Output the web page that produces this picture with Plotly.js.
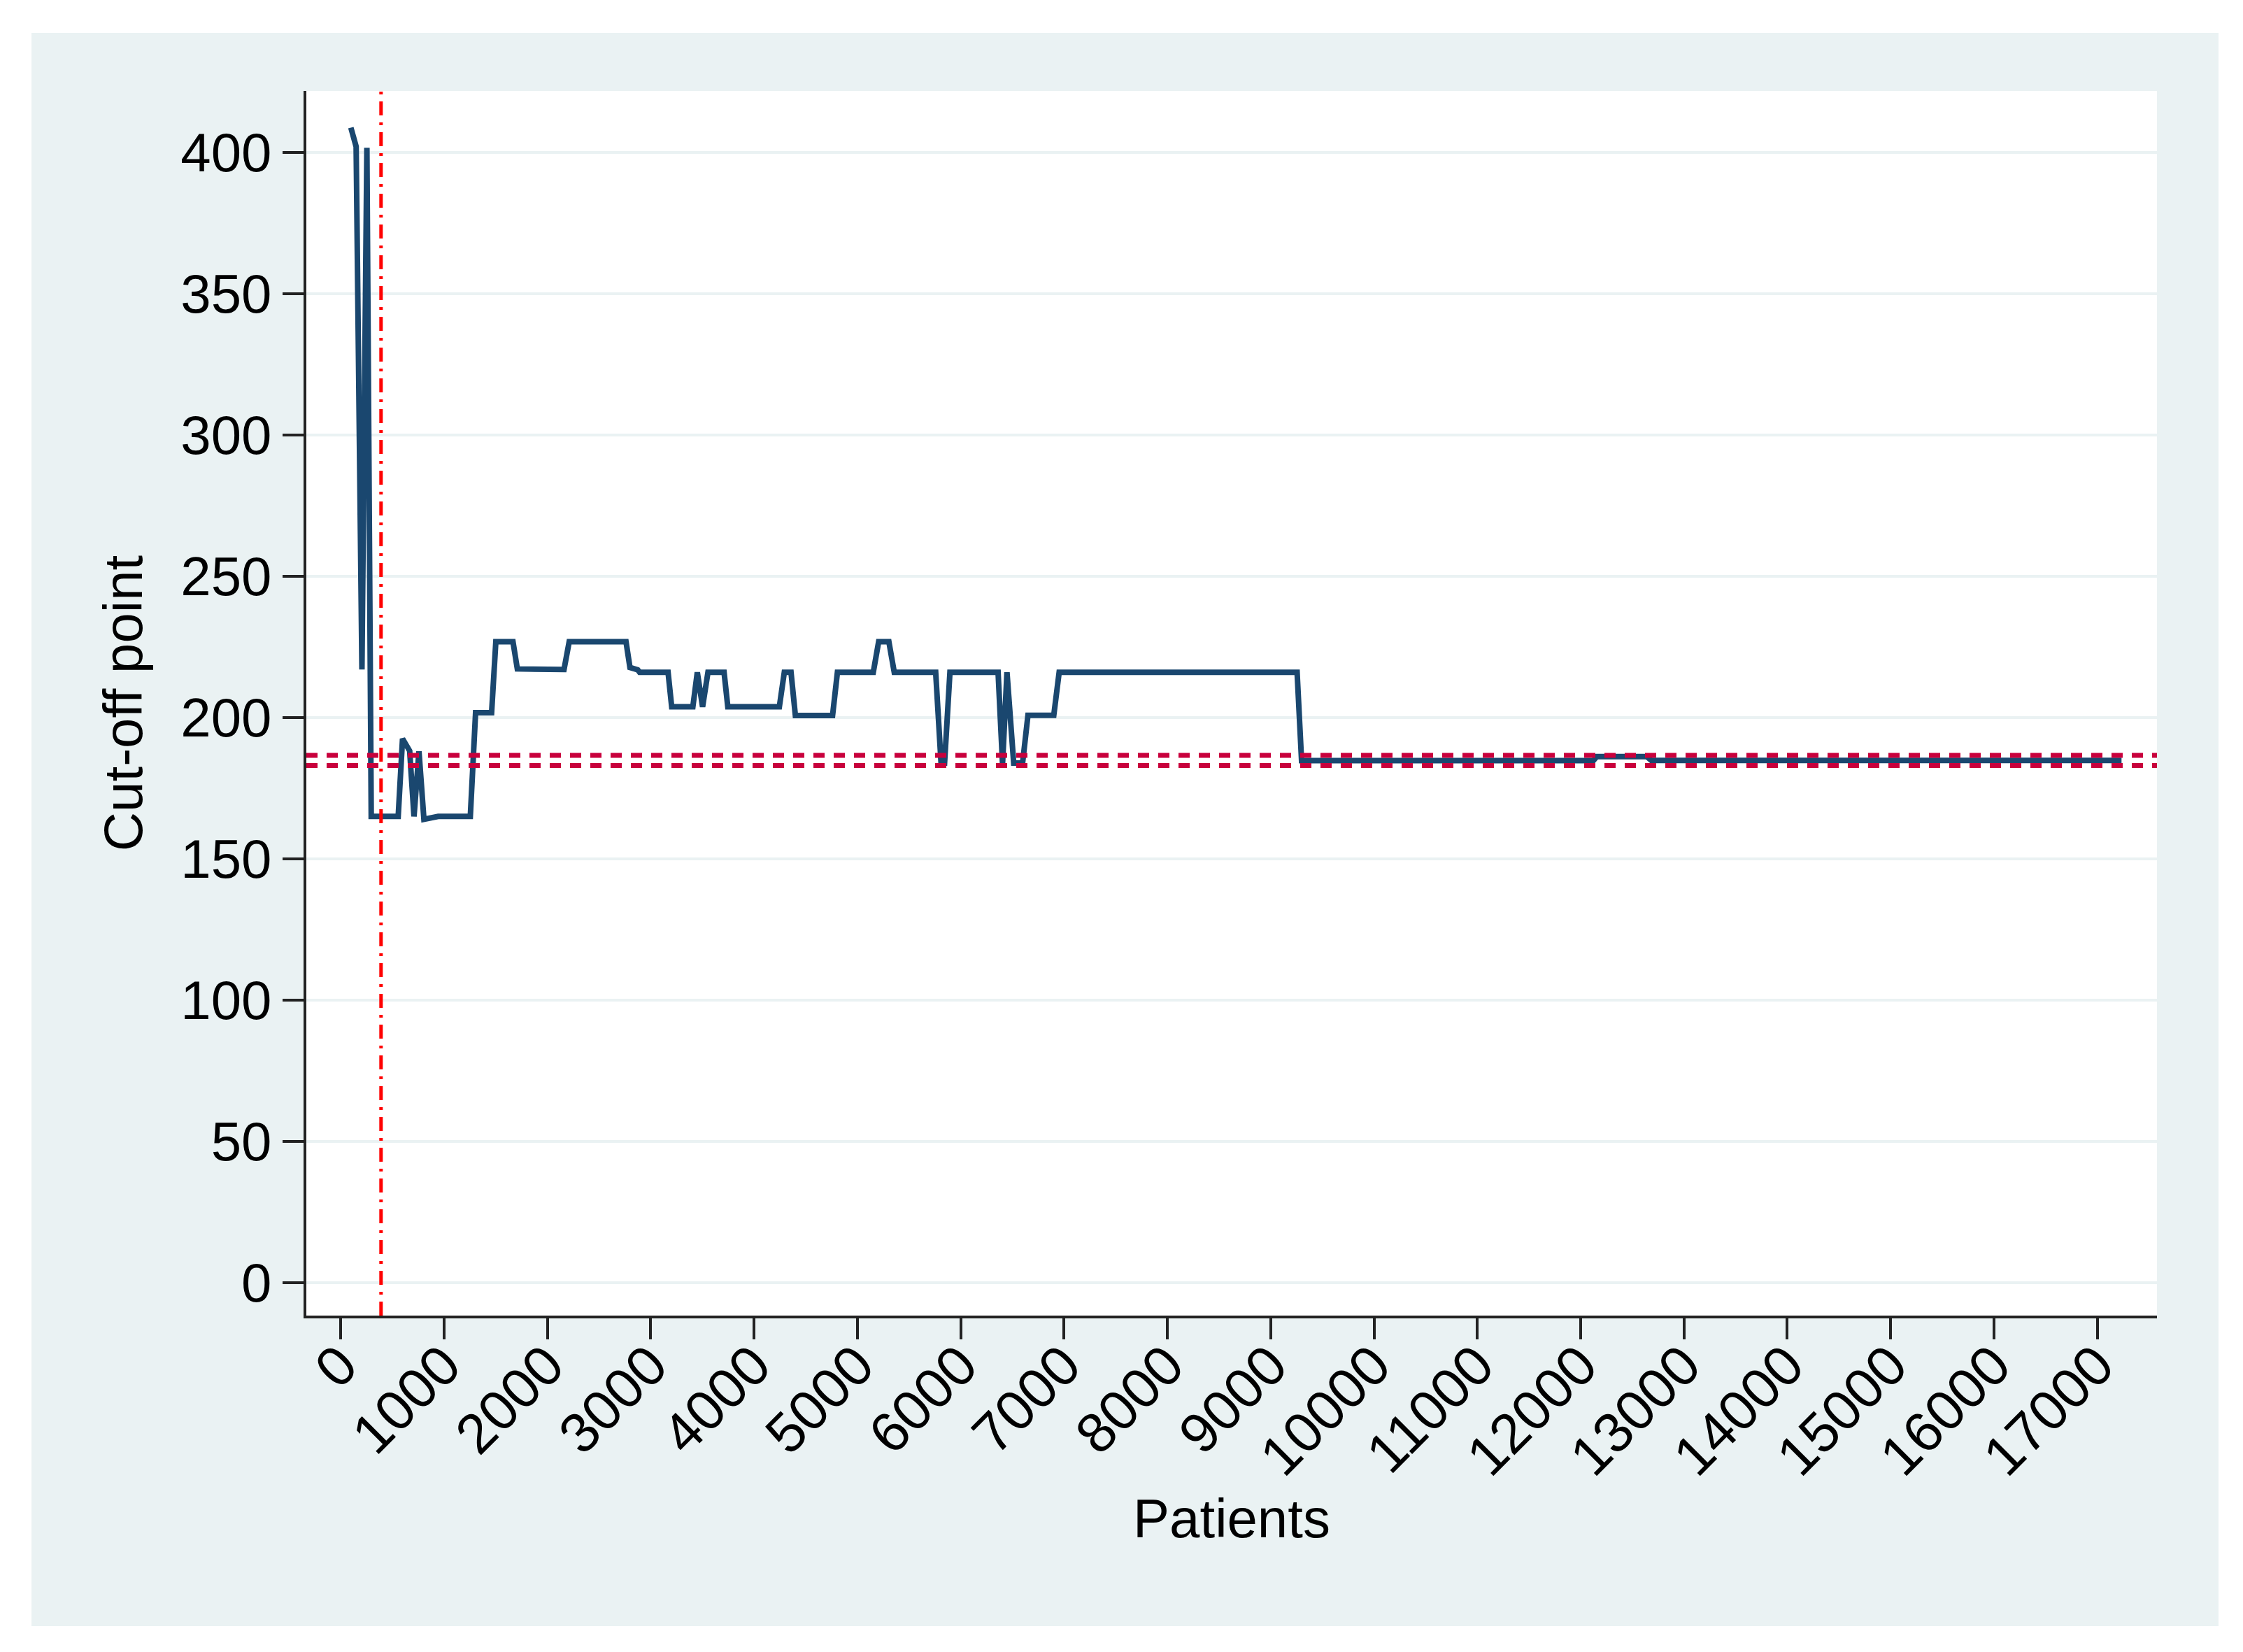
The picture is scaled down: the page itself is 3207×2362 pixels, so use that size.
<!DOCTYPE html>
<html>
<head>
<meta charset="utf-8">
<script src="https://cdn.plot.ly/plotly-3.0.1.min.js"></script>
<style>
  body { margin: 0; background: #ffffff; }
  #chart { position: absolute; left: 45px; top: 47px; width: 3127px; height: 2278px; }
</style>
</head>
<body>
<div id="chart"></div>
<script>
// patients (x) and running cut-off point (y)
var patients = [98, 149, 205, 253, 295, 556, 598, 667, 709, 757, 805, 943, 1254, 1305,
  1460, 1501, 1667, 1709, 2161, 2211, 2761, 2799, 2874, 2893, 3168, 3203, 3408, 3451,
  3502, 3554, 3710, 3746, 4245, 4293, 4358, 4400, 4760, 4807, 5154, 5206, 5305, 5357,
  5758, 5810, 5844, 5896, 6362, 6405, 6448, 6513, 6599, 6651, 6901, 6953, 9256, 9299,
  12123, 12157, 12641, 12684, 17235];
var cutoff = [408.7, 402, 217, 401.6, 165, 165, 192.5, 188.2, 165, 188, 164, 165, 165, 201.7,
  201.7, 226.8, 226.8, 217.2, 217, 226.8, 226.8, 217.7, 216.9, 216, 216, 203.8, 203.8, 216,
  203.8, 216, 216, 203.8, 203.8, 216, 216, 200.7, 200.7, 216, 216, 226.8, 226.8, 216,
  216, 183.9, 183.9, 216, 216, 183.6, 216, 183.9, 183.9, 200.8, 200.8, 216, 216, 184.75,
  184.75, 186.2, 186.2, 184.8, 184.8];

// reference lines
var hLines = [183.0, 186.6];
var vLine = 390;

var xTicks = [];
for (var t = 0; t <= 17000; t += 1000) xTicks.push(t);
var yTicks = [0, 50, 100, 150, 200, 250, 300, 350, 400];

var fnt = "Liberation Sans, Arial, sans-serif";

var shapes = [];
hLines.forEach(function (h) {
  shapes.push({
    type: "line", xref: "paper", x0: 0, x1: 1, yref: "y", y0: h, y1: h,
    line: { color: "#c8003c", width: 7, dash: "16px,13px" }, layer: "above"
  });
});
shapes.push({
  type: "line", xref: "x", x0: vLine, x1: vLine, yref: "paper", y0: 0, y1: 1,
  line: { color: "#ff0000", width: 5, dash: "20px,10px,4px,10px" }, layer: "above"
});

var trace = {
  x: patients,
  y: cutoff,
  mode: "lines",
  type: "scatter",
  line: { color: "#1a476f", width: 8 },
  hoverinfo: "x+y"
};

var layout = {
  width: 3127,
  height: 2278,
  paper_bgcolor: "#eaf2f3",
  plot_bgcolor: "#ffffff",
  margin: { l: 393, r: 88, t: 83, b: 444 },
  showlegend: false,
  font: { family: fnt, size: 78, color: "#000000" },
  shapes: shapes,
  xaxis: {
    range: [-333, 17578],
    tickvals: xTicks,
    ticktext: xTicks.map(String),
    tickangle: -45,
    ticks: "outside",
    ticklen: 30,
    tickwidth: 4,
    tickcolor: "#222222",
    ticklabelstandoff: -42,
    showline: true,
    linecolor: "#222222",
    linewidth: 4,
    showgrid: false,
    zeroline: false,
    tickfont: { family: fnt, size: 80, color: "#000000" },
    title: { text: "Patients", font: { family: fnt, size: 78, color: "#000000" }, standoff: 10 }
  },
  yaxis: {
    range: [-11.6, 421.7],
    tickvals: yTicks,
    ticktext: yTicks.map(String),
    ticks: "outside",
    ticklen: 30,
    tickwidth: 4,
    tickcolor: "#222222",
    showline: true,
    linecolor: "#222222",
    linewidth: 4,
    showgrid: true,
    gridcolor: "#eaf2f3",
    gridwidth: 4,
    zeroline: false,
    tickfont: { family: fnt, size: 78, color: "#000000" },
    title: { text: "Cut-off point", font: { family: fnt, size: 78, color: "#000000" }, standoff: 30 }
  }
};

Plotly.newPlot("chart", [trace], layout, { displayModeBar: false, staticPlot: true });
</script>
</body>
</html>
